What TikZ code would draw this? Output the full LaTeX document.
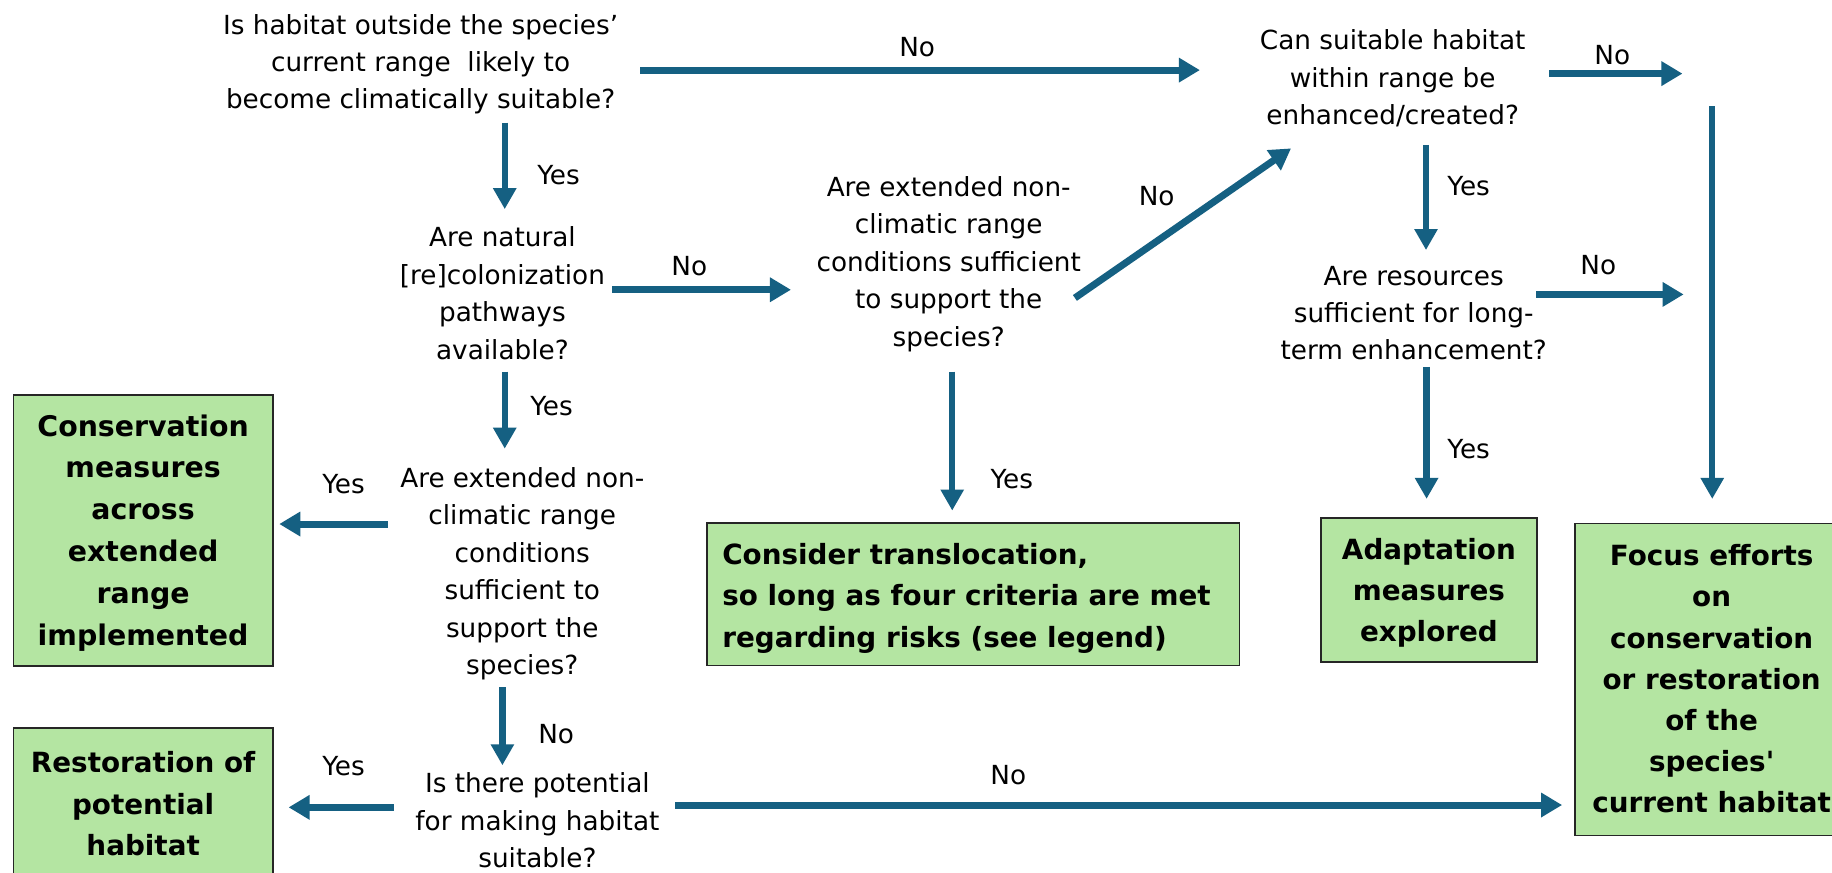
\documentclass[tikz,border=0pt]{standalone}
\usepackage{fontspec}
\setmainfont{DejaVu Sans}
\usetikzlibrary{arrows.meta}
\definecolor{arrc}{HTML}{156082}
\definecolor{boxg}{HTML}{B4E5A2}
\begin{document}
\begin{tikzpicture}[x=1pt,y=-1pt,
  q/.style={align=center,inner sep=0pt,font=\fontsize{22.5}{32}\selectfont},
  lbl/.style={inner sep=0pt,font=\fontsize{22.5}{26}\selectfont},
  gbox/.style={draw=black!85,line width=1.2pt,fill=boxg,inner sep=0pt},
  btxt/.style={align=center,inner sep=0pt,font=\fontsize{23.8}{35.5}\selectfont\bfseries},
  arr/.style={draw=arrc,line width=6pt,-{Triangle[length=18pt,width=20pt]}},
  arrv/.style={draw=arrc,line width=5.5pt,-{Triangle[length=18pt,width=19pt]}}]
\clip (0,0) rectangle (1568,747);
\fill[white] (0,0) rectangle (1568,747);
% boxes
\node[gbox,minimum width=222pt,minimum height=232pt] (b1) at (122.5,454) {};
\node[btxt,font=\fontsize{24.3}{35.8}\selectfont\bfseries] (b1t) at (122.5,456) {Conservation\\measures\\across\\extended\\range\\implemented};
\node[gbox,minimum width=222pt,minimum height=160pt] (b2) at (122.5,703) {};
\node[btxt] (b2t) at (122.5,688) {Restoration of\\potential\\habitat};
\node[gbox,minimum width=456pt,minimum height=122pt] (b3) at (833,508.5) {};
\node[btxt,align=left,anchor=west] (b3t) at (618,512) {Consider translocation,\\so long as four criteria are met\\regarding risks (see legend)};
\node[gbox,minimum width=185pt,minimum height=123pt] (b4) at (1223,505) {};
\node[btxt,font=\fontsize{23.8}{35}\selectfont\bfseries] (b4t) at (1223,507.5) {Adaptation\\measures\\explored};
\node[gbox,minimum width=234pt,minimum height=267pt] (b5) at (1465,581.5) {};
\node[btxt,font=\fontsize{23.8}{35.2}\selectfont\bfseries] (b5t) at (1465,581) {Focus efforts\\on\\conservation\\or restoration\\of the\\species\textquotesingle\\current habitat};
% questions
\node[q] (q1) at (360,55) {Is habitat outside the species’\\current range\ \ likely to\\become climatically suitable?};
\node[q] (q2) at (1192,67) {Can suitable habitat\\within range be\\enhanced/created?};
\node[q] (q3) at (430,251) {Are natural\\{[}re{]}colonization\\pathways\\available?};
\node[q] (q4) at (812,226) {Are extended non-\\climatic range\\conditions sufficient\\to support the\\species?};
\node[q] (q5) at (1210,268) {Are resources\\sufficient for long-\\term enhancement?};
\node[q] (q6) at (447,491) {Are extended non-\\climatic range\\conditions\\sufficient to\\support the\\species?};
\node[q] (q7) at (460,702) {Is there potential\\for making habitat\\suitable?};
% labels
\node[lbl] (l1) at (785,40) {No};
\node[lbl] (l2) at (1380,47) {No};
\node[lbl] (l3) at (478,150) {Yes};
\node[lbl] (l4) at (590,228) {No};
\node[lbl] (l5) at (990,168) {No};
\node[lbl] (l6) at (1257,159) {Yes};
\node[lbl] (l7) at (1368,227) {No};
\node[lbl] (l8) at (1257,384) {Yes};
\node[lbl] (l9) at (866,410) {Yes};
\node[lbl] (l10) at (472,348) {Yes};
\node[lbl] (l11) at (294,414) {Yes};
\node[lbl] (l12) at (476,628) {No};
\node[lbl] (l13) at (294,656) {Yes};
\node[lbl] (l14) at (863,663) {No};
% arrow endpoints
\coordinate (a1s) at (548,60);    \coordinate (a1e) at (1027,60);
\coordinate (a2s) at (1326,63);   \coordinate (a2e) at (1440,63);
\coordinate (a3s) at (1465.5,91); \coordinate (a3e) at (1465.5,427);
\coordinate (a4s) at (432,105);   \coordinate (a4e) at (432,179);
\coordinate (a5s) at (524,248);   \coordinate (a5e) at (677,248);
\coordinate (a6s) at (920,255);   \coordinate (a6e) at (1105,127);
\coordinate (a7s) at (1220.5,124);\coordinate (a7e) at (1220.5,214);
\coordinate (a8s) at (1315,252);  \coordinate (a8e) at (1441,252);
\coordinate (a9s) at (1221,314);  \coordinate (a9e) at (1221,427);
\coordinate (a10s) at (815,318);  \coordinate (a10e) at (815,437);
\coordinate (a11s) at (432,318);  \coordinate (a11e) at (432,384);
\coordinate (a12s) at (332,448.5);\coordinate (a12e) at (239,448.5);
\coordinate (a13s) at (430,588);  \coordinate (a13e) at (430,655);
\coordinate (a14s) at (337,691);  \coordinate (a14e) at (247,691);
\coordinate (a15s) at (578,689);  \coordinate (a15e) at (1337,689);
\draw[arr] (a1s) -- (a1e);
\draw[arr] (a2s) -- (a2e);
\draw[arrv] (a3s) -- (a3e);
\draw[arrv] (a4s) -- (a4e);
\draw[arr] (a5s) -- (a5e);
\draw[arr] (a6s) -- (a6e);
\draw[arrv] (a7s) -- (a7e);
\draw[arr] (a8s) -- (a8e);
\draw[arrv] (a9s) -- (a9e);
\draw[arrv] (a10s) -- (a10e);
\draw[arrv] (a11s) -- (a11e);
\draw[arr] (a12s) -- (a12e);
\draw[arrv] (a13s) -- (a13e);
\draw[arr] (a14s) -- (a14e);
\draw[arr] (a15s) -- (a15e);
\end{tikzpicture}
\end{document}
